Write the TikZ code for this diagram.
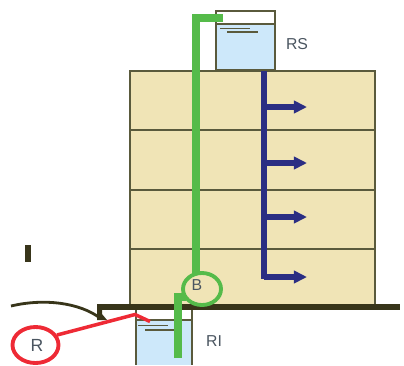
\documentclass[tikz,border=0pt]{standalone}
\usepackage{fontspec}
\setmainfont{Liberation Sans}
\usetikzlibrary{arrows.meta}
\definecolor{wallfill}{HTML}{F0E4B6}
\definecolor{wallline}{HTML}{5A5A3C}
\definecolor{slabcol}{HTML}{38351A}
\definecolor{watercol}{HTML}{CDE8FA}
\definecolor{pipegreen}{HTML}{55BB4A}
\definecolor{pipeblue}{HTML}{2B2E83}
\definecolor{redcol}{HTML}{EE2A35}
\definecolor{labelcol}{HTML}{4A5560}
\tikzset{
	wall/.style={draw=wallline, line width=0.8pt},
	tank/.style={draw=wallline, line width=1.1pt},
	water/.style={fill=watercol},
	level/.style={draw=wallline, line width=1pt},
	greenpipe/.style={draw=pipegreen, line width=4pt},
	bluepipe/.style={draw=pipeblue, line width=3pt},
	bluearrow/.style={bluepipe, -{Triangle[length=7.5pt,width=7pt]}},
	tag/.style={text=labelcol, font=\small, inner sep=0pt}
}
\begin{document}
\begin{tikzpicture}[x=0.02cm, y=-0.02cm]
\useasboundingbox (0,0) rectangle (404,365);

% the floors
\fill[wallfill] (130,71) rectangle (375,305);
\draw[wall] (130,71) rectangle (375,305);
\foreach \y in {130, 190, 249}
{
	\draw[wall] (130,\y) -- (375,\y);
}

% upper tank
\fill[water] (216,24) rectangle (275,70);
\draw[tank] (216,11) rectangle (275,70);
\draw[tank] (216,24) -- (275,24);
\draw[level] (220,28.5) -- (250,28.5);
\draw[level] (227,32) -- (258,32);

% lower tank
\fill[water] (136,320) rectangle (192,365);
\draw[tank] (136,310) -- (136,365) (192,310) -- (192,365);
\draw[tank] (136,320) -- (192,320);
\draw[level] (138,325.5) -- (168,325.5);
\draw[level] (145,330) -- (175,330);

% the slab
\fill[slabcol] (97,304) rectangle (400,310);
\fill[slabcol] (97,304) -- (102,304) -- (102,314) -- (107,320) -- (97,320) -- cycle;
\draw[slabcol, line width=1.6pt] (11,306) .. controls (45,298) and (80,303) .. (100,318);
\fill[slabcol] (25,245) rectangle (30.5,262);

% blue pipe and its outlets
\draw[bluepipe] (264,71) -- (264,279);
\foreach \y in {107, 163, 217, 277}
{
	\draw[bluearrow] (264,\y) -- (307,\y);
}

% green pipes
\draw[greenpipe] (223,18) -- (196,18) -- (196,274);
\draw[greenpipe] (178,358) -- (178,297) -- (186,297);
\draw[pipegreen, line width=2.2pt] (202,289) ellipse (19 and 16);

% red mark
\draw[redcol, line width=2pt] (57,335) -- (135,314.5) -- (150,321.5);
\draw[redcol, line width=2.2pt] (35.5,345) ellipse (23 and 18);

% labels
\node[tag] (rs) at (297,44.5) {RS};
\node[tag] (ri) at (214,341) {RI};
\node[tag] (b) at (197,285) {B};
\node[tag, font=\normalsize] (r) at (37,345.5) {R};

\end{tikzpicture}
\end{document}
